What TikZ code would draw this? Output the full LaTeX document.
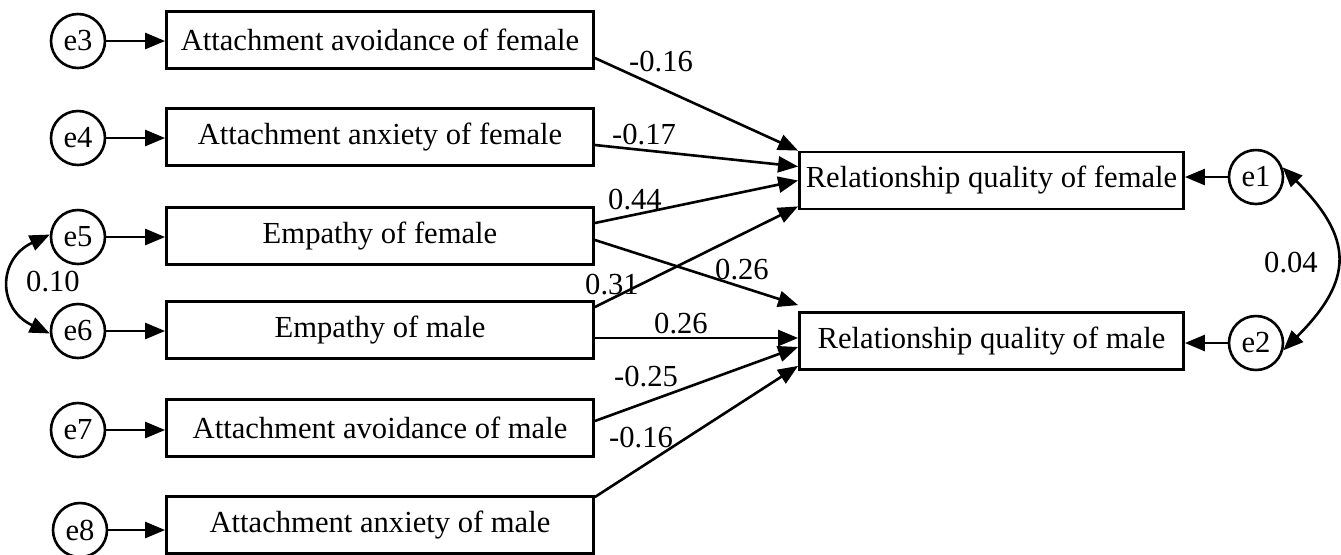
\documentclass[tikz,border=0pt]{standalone}
\usepackage{fontspec}
\setmainfont{Liberation Serif}
\usetikzlibrary{arrows.meta,calc}

\begin{document}
\begin{tikzpicture}[x=0.5pt, y=0.5pt,
        every node/.style={font=\fontsize{15.3}{18}\selectfont},
        var/.style={draw, line width=1.4pt, minimum height=28.5pt, inner sep=0pt},
        err/.style={draw, circle, line width=1.3pt, minimum size=27pt, inner sep=0pt},
        effect/.style={-{Triangle[length=10pt, width=8pt]}, line width=1.3pt},
        cov/.style={{Triangle[length=10pt, width=8pt]}-{Triangle[length=10pt, width=8pt]}, line width=1.3pt}]
        \useasboundingbox (0, 0) rectangle (1341, -554);
        \node[var, minimum width=213.5pt] (avf) at (380, -40) {Attachment avoidance of female};
        \node[var, minimum width=213.5pt] (anf) at (380, -137) {Attachment anxiety of female};
        \node[var, minimum width=213.5pt] (emf) at (380, -236) {Empathy of female};
        \node[var, minimum width=213.5pt] (emm) at (380, -330) {Empathy of male};
        \node[var, minimum width=213.5pt] (avm) at (380, -428) {Attachment avoidance of male};
        \node[var, minimum width=213.5pt] (anm) at (380, -525) {Attachment anxiety of male};
        \node[var, minimum width=192pt] (rqf) at (991.5, -180.5) {Relationship quality of female};
        \node[var, minimum width=192pt] (rqm) at (991.5, -341) {Relationship quality of male};
        \node[err] (e3) at (78, -41) {e3};
        \node[err] (e4) at (78, -138) {e4};
        \node[err] (e5) at (78, -237) {e5};
        \node[err] (e6) at (78, -331) {e6};
        \node[err] (e7) at (78, -430) {e7};
        \node[err] (e8) at (80, -530) {e8};
        \node[err] (e1) at (1256, -177) {e1};
        \node[err] (e2) at (1256, -343) {e2};
        \draw[effect] (e3) -- (e3 -| avf.west);
        \draw[effect] (e4) -- (e4 -| anf.west);
        \draw[effect] (e5) -- (e5 -| emf.west);
        \draw[effect] (e6) -- (e6 -| emm.west);
        \draw[effect] (e7) -- (e7 -| avm.west);
        \draw[effect] (e8) -- (e8 -| anm.west);
        \draw[effect] (e1) -- (e1 -| rqf.east);
        \draw[effect] (e2) -- (e2 -| rqm.east);
        \draw[effect] ($(avf.east)+(0, -18)$) -- (rqf.north west);
        \draw[effect] ($(anf.east)+(0, -8)$) -- ($(rqf.west)+(0, 14)$);
        \draw[effect] ($(emf.east)+(0, 13)$) -- (rqf.west);
        \draw[effect] ($(emf.east)+(0, -4)$) -- ($(rqm.north west)+(0, 6)$);
        \draw[effect] ($(emm.east)+(0, 23)$) -- ($(rqf.south west)+(0, 4)$);
        \draw[effect] ($(emm.east)+(0, -8)$) -- ($(rqm.west)+(0, 3)$);
        \draw[effect] ($(avm.east)+(0, 7)$) -- ($(rqm.west)+(0, -6)$);
        \draw[effect] ($(anm.east)+(0, 28)$) -- ($(rqm.south west)+(0, 5)$);
        \draw[cov] (e5.175) to[out=205, in=155, looseness=1.5] (e6.185);
        \draw[cov] (e2.-15) to[out=45, in=-45, looseness=1.4] (e1.20);
        \node (c1) at (661, -62) {-0.16};
        \node (c2) at (644, -135) {-0.17};
        \node (c3) at (635, -200) {0.44};
        \node (c4) at (742, -270) {0.26};
        \node (c5) at (612, -285) {0.31};
        \node (c6) at (681, -324) {0.26};
        \node (c7) at (646, -377) {-0.25};
        \node (c8) at (641, -438) {-0.16};
        \node (c9) at (53, -282) {0.10};
        \node (c10) at (1291, -263) {0.04};
    \end{tikzpicture}
\end{document}
